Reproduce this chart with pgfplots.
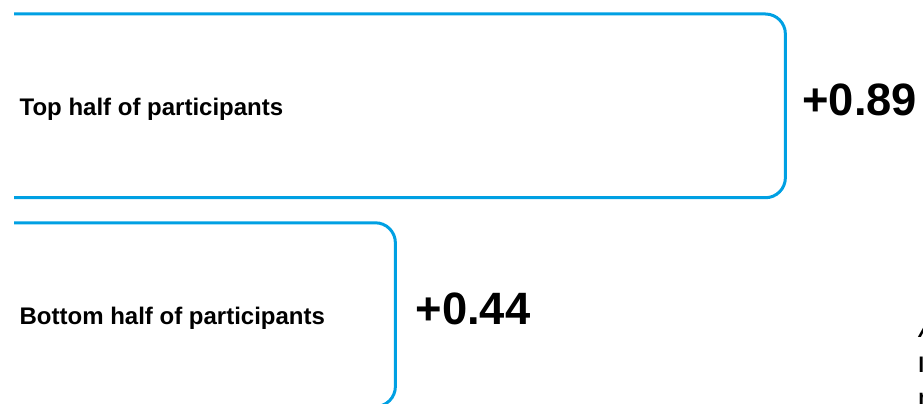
\documentclass[border=0pt]{standalone}
\usepackage{pgfplots}
\pgfplotsset{compat=1.18}
\usepackage{fontspec}
\setmainfont{Liberation Sans}
\definecolor{barblue}{RGB}{0,160,227}
\begin{document}
\begin{tikzpicture}[x=1pt,y=1pt]
\path[use as bounding box, clip] (0,0) rectangle (692.25,302.25);
\begin{axis}[
  at={(0,0)}, anchor=south west,
  scale only axis, width=692.25pt, height=302.25pt,
  hide axis, clip=false,
  xmin=-0.0162, xmax=1.0488,
  ymin=-0.423, ymax=1.507,
]
\addplot[barblue, line width=2.25pt, rounded corners=15pt, mark=none]
  coordinates {(0,1.44) (0.89,1.44) (0.89,0.56) (0,0.56)};
\addplot[barblue, line width=2.25pt, rounded corners=15pt, mark=none]
  coordinates {(0,0.44) (0.44,0.44) (0.44,-0.44) (0,-0.44)};
\node[anchor=base west, inner sep=0pt, xshift=4pt, font=\fontsize{18}{20}\selectfont\bfseries] at (axis cs:0,0.956) {Top half of participants};
\node[anchor=base west, inner sep=0pt, xshift=4pt, font=\fontsize{18}{20}\selectfont\bfseries] at (axis cs:0,-0.046) {Bottom half of participants};
\node[anchor=base west, inner sep=0pt, xshift=12.5pt, font=\fontsize{34}{36}\selectfont\bfseries] at (axis cs:0.89,0.956) {+0.89};
\node[anchor=base west, inner sep=0pt, xshift=15pt, font=\fontsize{34}{36}\selectfont\bfseries] at (axis cs:0.44,-0.046) {+0.44};
\node[anchor=base west, inner sep=0pt, font=\fontsize{16}{18}\selectfont\bfseries\itshape] at (axis cs:1.043,-0.1116) {Average};
\node[anchor=base west, inner sep=0pt, font=\fontsize{16}{18}\selectfont\bfseries] at (axis cs:1.043,-0.279) {lift};
\node[anchor=base west, inner sep=0pt, font=\fontsize{16}{18}\selectfont\bfseries] at (axis cs:1.043,-0.432) {rise};
\end{axis}
\end{tikzpicture}
\end{document}
